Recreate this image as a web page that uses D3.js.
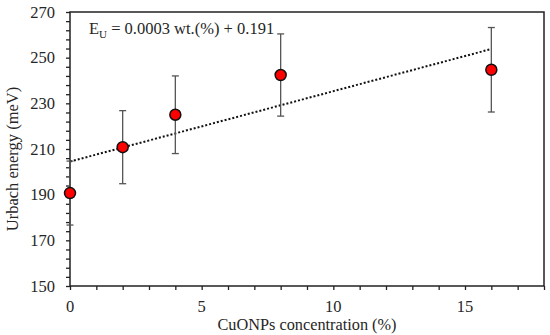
<!DOCTYPE html>
<html>
<head>
<meta charset="utf-8">
<script src="https://cdn.jsdelivr.net/npm/d3@7"></script>
<style>
  body { margin: 0; background: #fff; }
</style>
</head>
<body>
<div id="chartspace"></div>
<script>
// concentration (%) vs Urbach energy (meV)
var conc = [0, 2, 4, 8, 16];
var energy = [190.7, 210.8, 225, 242.4, 244.7];
var errs = [14, 16, 17, 18, 18.5];
// fitted trend line end points
var fitX = [0, 16];
var fitY = [204.5, 253.8];
var xTicks = [0, 5, 10, 15];
var yTicks = [150, 170, 190, 210, 230, 250, 270];

var W = 550, H = 335;
var margin = { top: 12, right: 6, bottom: 49, left: 70 },
    width = W - margin.left - margin.right,
    height = H - margin.top - margin.bottom;

var root = d3.select("#chartspace").append("svg")
    .attr("width", W)
    .attr("height", H)
    .attr("font-family", "'Liberation Serif', serif")
    .attr("fill", "#262626");

var svg = root.append("g")
    .attr("transform", "translate(" + margin.left + "," + margin.top + ")");

var x = d3.scaleLinear().domain([0, 18]).range([0, width]);
var y = d3.scaleLinear().domain([150, 270]).range([height, 0]);

// minor ticks
var xAxis = svg.append("g")
    .attr("transform", "translate(0," + height + ")")
    .call(d3.axisBottom(x).tickValues(d3.range(0, 19, 1)).tickSize(4).tickFormat(""));
var yAxis = svg.append("g")
    .call(d3.axisLeft(y).tickValues(d3.range(150, 271, 4)).tickSize(4).tickFormat(""));
[xAxis, yAxis].forEach(function (a) {
    a.select(".domain").remove();
    a.selectAll("line").attr("stroke", "#222").attr("stroke-width", 1.3);
});

// tick labels
svg.selectAll(".xl").data(xTicks).enter().append("text")
    .attr("x", function (d) { return x(d); })
    .attr("y", height + 26)
    .attr("text-anchor", "middle")
    .attr("font-size", 16.5)
    .text(function (d) { return d; });
svg.selectAll(".yl").data(yTicks).enter().append("text")
    .attr("x", -15)
    .attr("y", function (d) { return y(d) + 5.5; })
    .attr("text-anchor", "end")
    .attr("font-size", 16.5)
    .text(function (d) { return d; });

// frame
svg.append("rect")
    .attr("width", width).attr("height", height)
    .attr("fill", "none").attr("stroke", "#222").attr("stroke-width", 1.5);

// trend line
svg.append("line")
    .attr("x1", x(fitX[0])).attr("y1", y(fitY[0]))
    .attr("x2", x(fitX[1])).attr("y2", y(fitY[1]))
    .attr("stroke", "#111").attr("stroke-width", 2)
    .attr("stroke-dasharray", "2,2");

// error bars
var eb = svg.selectAll(".eb").data(conc).enter().append("g").attr("stroke", "#555").attr("stroke-width", 1.3);
eb.append("line")
    .attr("x1", function (d) { return x(d); }).attr("x2", function (d) { return x(d); })
    .attr("y1", function (d, i) { return y(energy[i] - errs[i]); })
    .attr("y2", function (d, i) { return y(energy[i] + errs[i]); });
[-1, 1].forEach(function (s) {
    eb.append("line")
        .attr("x1", function (d) { return x(d) - 3.5; }).attr("x2", function (d) { return x(d) + 3.5; })
        .attr("y1", function (d, i) { return y(energy[i] + s * errs[i]); })
        .attr("y2", function (d, i) { return y(energy[i] + s * errs[i]); });
});

// points
svg.selectAll(".pt").data(conc).enter().append("circle")
    .attr("cx", function (d) { return x(d); })
    .attr("cy", function (d, i) { return y(energy[i]); })
    .attr("r", 5.5)
    .attr("fill", "#ff0000").attr("stroke", "#111").attr("stroke-width", 1.5);

// equation
var eq = svg.append("text")
    .attr("x", 19).attr("y", 22)
    .attr("font-size", 16.5);
eq.append("tspan").text("E");
eq.append("tspan").attr("dy", 4).attr("font-size", 11).text("U");
eq.append("tspan").attr("dy", -4).text(" = 0.0003 wt.(%) + 0.191");

// axis titles
svg.append("text")
    .attr("x", width / 2).attr("y", height + 44)
    .attr("text-anchor", "middle")
    .attr("font-size", 16.3)
    .text("CuONPs concentration (%)");
svg.append("text")
    .attr("transform", "translate(-52," + (height / 2 + 10) + ") rotate(-90)")
    .attr("text-anchor", "middle")
    .attr("font-size", 16.5)
    .text("Urbach energy (meV)");
</script>
</body>
</html>
